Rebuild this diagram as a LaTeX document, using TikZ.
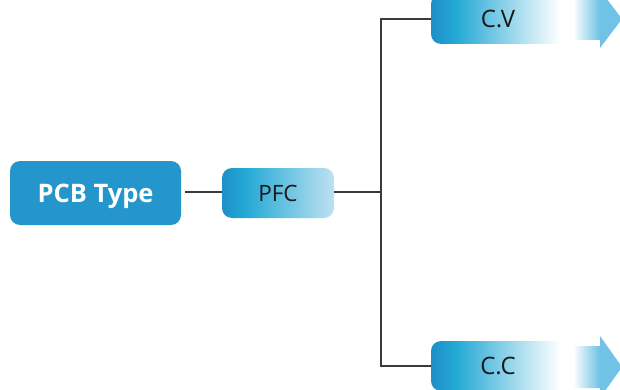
\documentclass[tikz,border=0pt]{standalone}
\usepackage{fontspec}
\setmainfont{Open Sans}
\usepackage{tikz}
\usetikzlibrary{positioning}
\definecolor{pcbblue}{HTML}{2596CB}
\definecolor{deepblue}{HTML}{1F8FC7}
\definecolor{cyanblue}{HTML}{22A8D5}
\definecolor{paleblue}{HTML}{BFE1F1}
\definecolor{arrowblue}{HTML}{70C3E6}
\definecolor{linegray}{HTML}{3A3A3A}
\pgfdeclarehorizontalshading{pfcfade}{100bp}{color(0bp)=(deepblue); color(25bp)=(deepblue); color(35bp)=(cyanblue); color(75bp)=(paleblue); color(100bp)=(paleblue)}
\pgfdeclarehorizontalshading{leaffade}{100bp}{color(0bp)=(deepblue); color(25bp)=(deepblue); color(34bp)=(cyanblue); color(73bp)=(white); color(100bp)=(white)}
\pgfdeclarehorizontalshading{arrowfade}{100bp}{color(0bp)=(white); color(25bp)=(white); color(52bp)=(arrowblue); color(100bp)=(arrowblue)}
\tikzset{
  rootbox/.style={rounded corners=10pt, fill=pcbblue, text=white, font=\fontsize{25.5}{30}\selectfont\bfseries, minimum width=171pt, minimum height=64pt, inner sep=0pt, text depth=0pt},
  midbox/.style={rounded corners=10pt, shading=pfcfade, text=black!90, font=\fontsize{22.5}{27}\selectfont, minimum width=112pt, minimum height=50pt, inner sep=0pt},
  leafbox/.style={rounded corners=10pt, shading=leaffade, text=black!90, font=\fontsize{24}{28}\selectfont, minimum width=134pt, minimum height=50pt, inner sep=0pt},
  tree/.style={draw=linegray, line width=1.1pt}
}
\begin{document}
\begin{tikzpicture}[x=1pt,y=-1pt]
    % page frame
    \useasboundingbox (0,0) rectangle (620,390);
    \clip (0,0) rectangle (620,390);

    % the boxes
    \node[rootbox] (pcb) at (95.5,193) {PCB Type};
    \node[midbox] (pfc) at (278,193) {PFC};
    \node[leafbox] (cv) at (498,19) {C.V};
    \node[leafbox] (cc) at (498,366) {C.C};

    % arrows after the leaves
    \shade[shading=arrowfade] (573,-2) -- (600,-2) -- (600,-10) -- (622,19) -- (600,48) -- (600,40) -- (573,40) -- cycle;
    \shade[shading=arrowfade] (573,346) -- (600,346) -- (600,336) -- (622,367) -- (600,398) -- (600,388) -- (573,388) -- cycle;

    % connectors
    \coordinate (split) at (381,192);
    \draw[tree, shorten <=4pt] (pcb.east |- 0,192) -- (pfc.west |- 0,192);
    \draw[tree] (pfc.east |- 0,192) -- (split);
    \draw[tree] (split) |- (cv.west);
    \draw[tree] (split) |- (cc.west);
\end{tikzpicture}
\end{document}
